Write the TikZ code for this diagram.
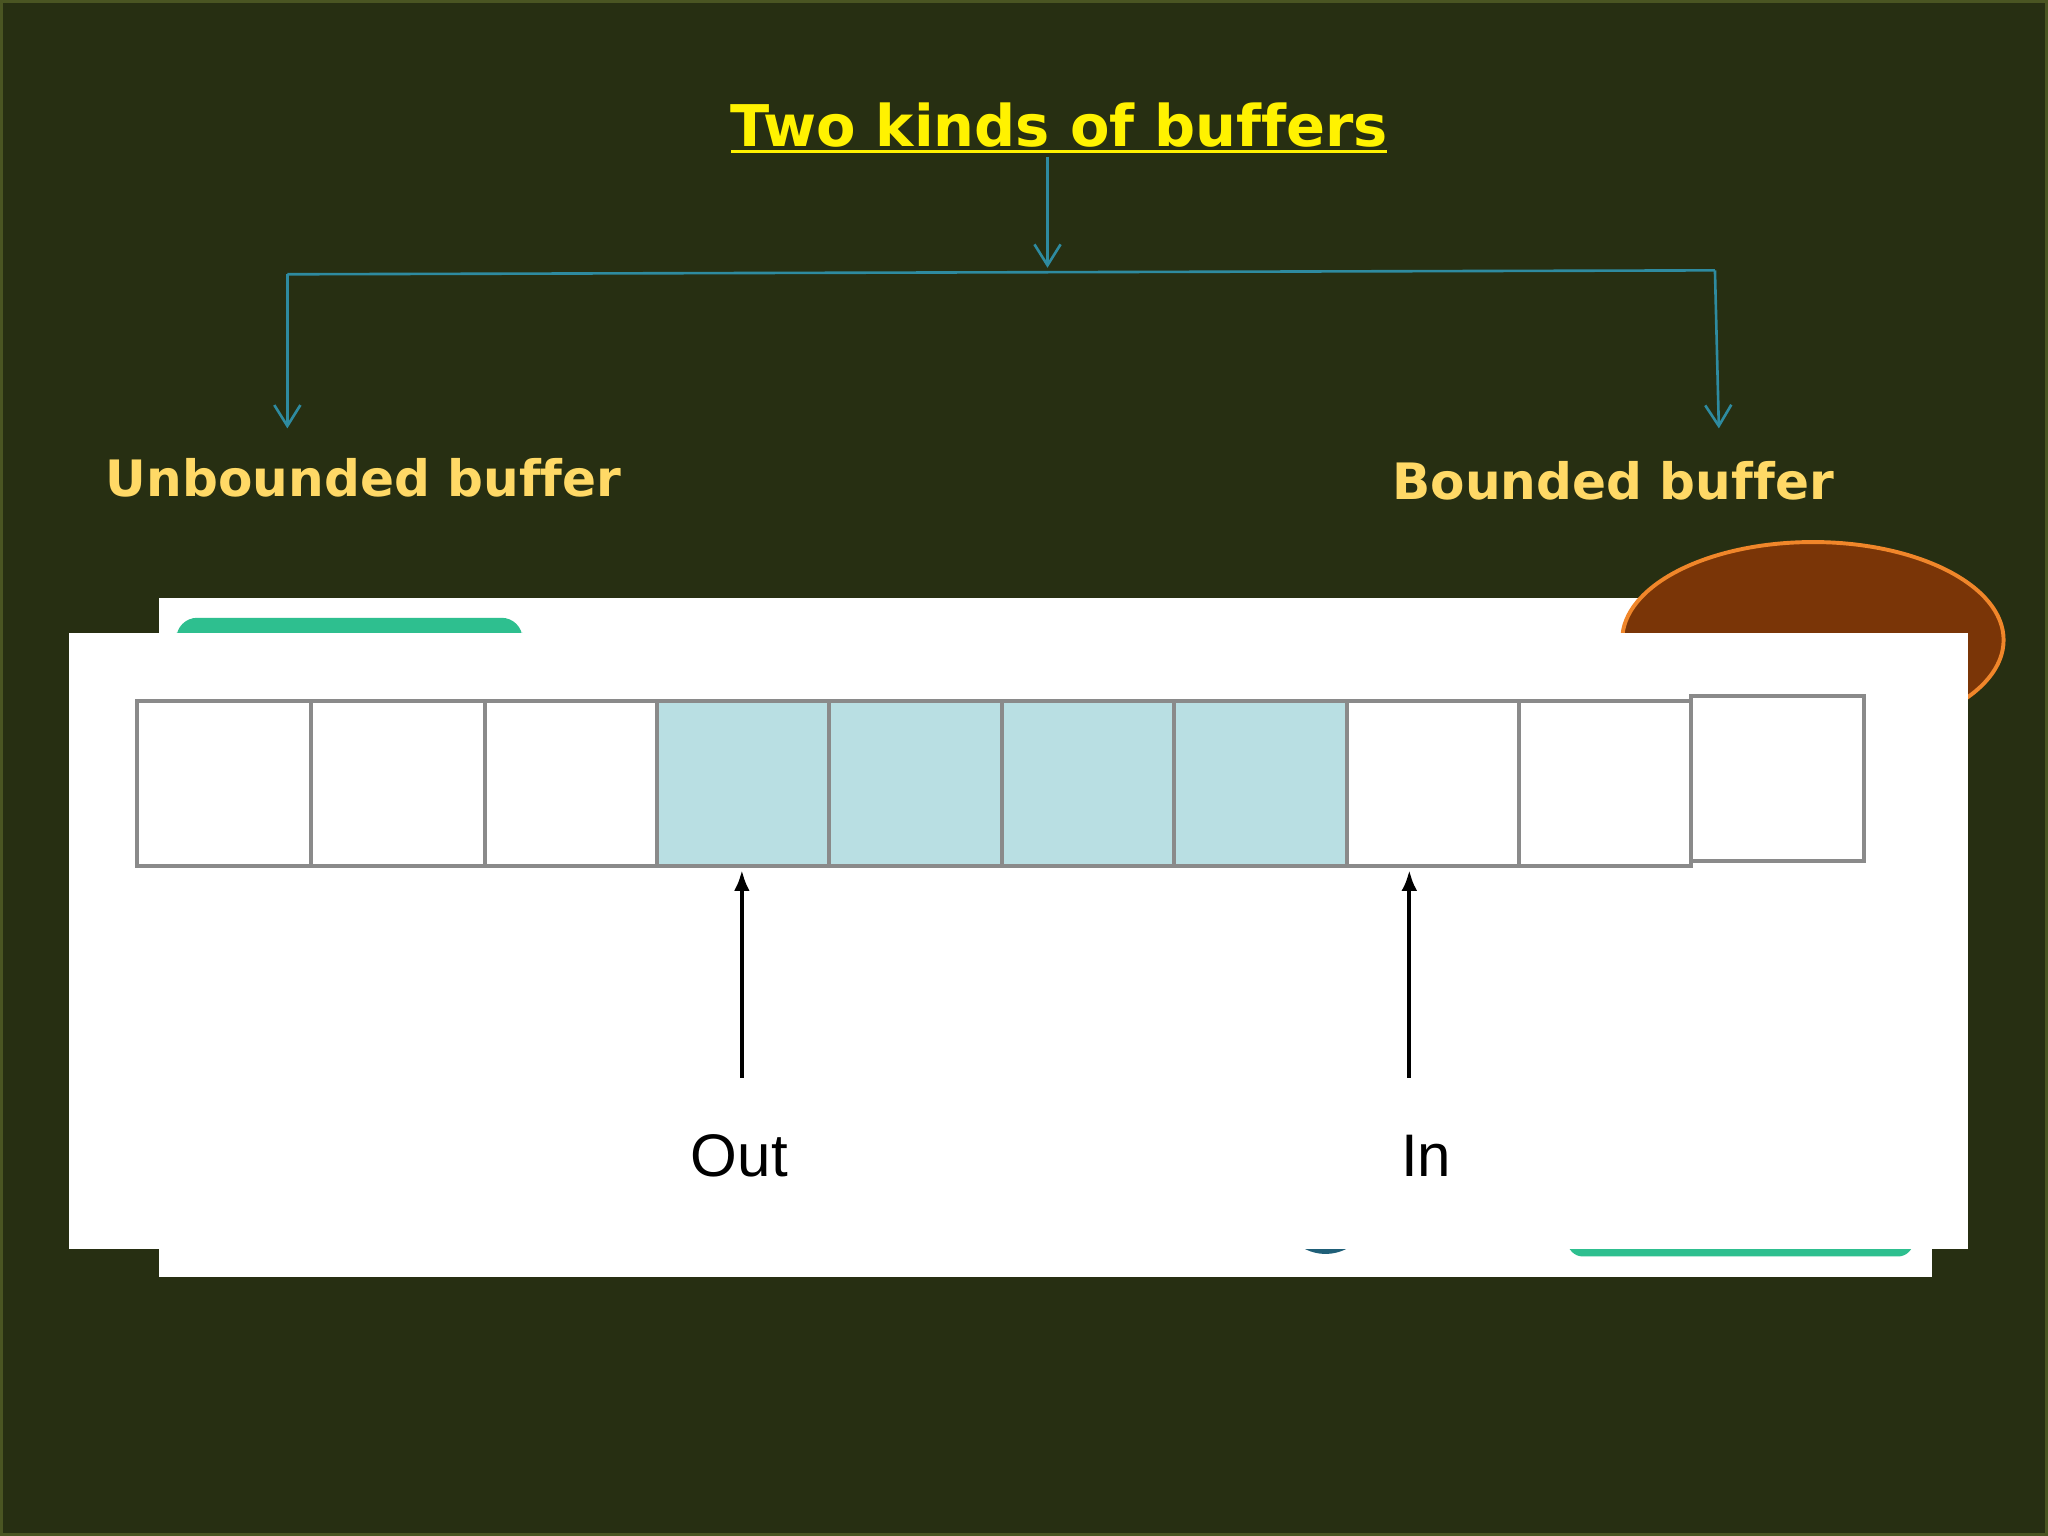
\documentclass[tikz,border=0pt]{standalone}
\usepackage{fontspec}
\setmainfont[Ligatures=NoCommon]{DejaVu Sans}
\newfontfamily\lab{Liberation Sans}
\usetikzlibrary{arrows.meta}
\definecolor{bg}{HTML}{272F12}
\definecolor{bgline}{HTML}{4A5522}
\definecolor{teal}{HTML}{2E8BA0}
\definecolor{gold}{HTML}{FFD966}
\definecolor{fillb}{HTML}{B9DFE3}
\definecolor{cellg}{HTML}{8A8A8A}
\definecolor{grn}{HTML}{2EBF8F}
\definecolor{brn}{HTML}{7A3507}
\definecolor{orng}{HTML}{F0862A}
\definecolor{dblue}{HTML}{1F5F78}
\tikzset{
 conn/.style={teal,line width=1pt},
 carr/.style={conn,-{Straight Barb[length=8pt,width=10pt,open]}},
 cell/.style={draw=cellg,line width=1.5pt},
 parr/.style={black,line width=1.6pt,-{Latex[length=8pt,width=6pt]}},
 head/.style={text=gold,font=\bfseries\fontsize{19.2pt}{22pt}\selectfont,anchor=west},
}
\begin{document}
\begin{tikzpicture}[x=0.5pt,y=-0.5pt]
\useasboundingbox (0,0) rectangle (1568,1176);
\fill[bg] (0,0) rectangle (1568,1176);
\draw[bgline,line width=1pt] (1,1) rectangle (1567,1175);
\node[text=yellow,font=\bfseries\fontsize{22pt}{25pt}\selectfont] (title) at (811,96) {Two kinds of buffers};
\draw[yellow,line width=1.2pt] (560,116) -- (1062,116);
\coordinate (tb) at (802,120);
\coordinate (mid) at (802,205);
\coordinate (l) at (220,210);
\coordinate (r) at (1313,207);
\coordinate (la) at (220,328);
\coordinate (ra) at (1316,328);
\draw[carr] (tb) -- (mid);
\draw[conn] (l) -- (r);
\draw[carr] (l) -- (la);
\draw[carr] (r) -- (ra);
\node[head] (ub) at (74,366) {Unbounded buffer};
\node[head] (bb) at (1059,368) {Bounded buffer};
% back layer
\fill[white] (122,458) rectangle (1479,978);
\fill[grn,rounded corners=8pt] (135,473) rectangle (400,500);
\draw[orng,fill=brn,line width=1.5pt] (1388,490) ellipse [x radius=146,y radius=75];
\fill[dblue] (982,937) arc[start angle=160,end angle=20,radius=35] -- cycle;
\fill[grn,rounded corners=6pt] (1200,940) rectangle (1465,962);
% front image
\fill[white] (53,485) rectangle (1507,956);
\foreach \a/\b/\f in {105/238/white,238/371/white,371/503/white,503/635/fillb,635/767/fillb,767/899/fillb,899/1031/fillb,1031/1163/white,1163/1295/white}{
 \draw[cell,fill=\f] (\a,537) rectangle (\b,663);
}
\draw[cell,fill=white] (1295,533) rectangle (1427,659);
\node[font=\lab\fontsize{23pt}{25pt}\selectfont] (out) at (566,885) {Out};
\node[font=\lab\fontsize{23pt}{25pt}\selectfont] (in) at (1092,885) {In};
\coordinate (o1) at (568,825); \coordinate (o2) at (568,666);
\coordinate (i1) at (1079,825); \coordinate (i2) at (1079,666);
\draw[parr] (o1) -- (o2);
\draw[parr] (i1) -- (i2);
\end{tikzpicture}
\end{document}
